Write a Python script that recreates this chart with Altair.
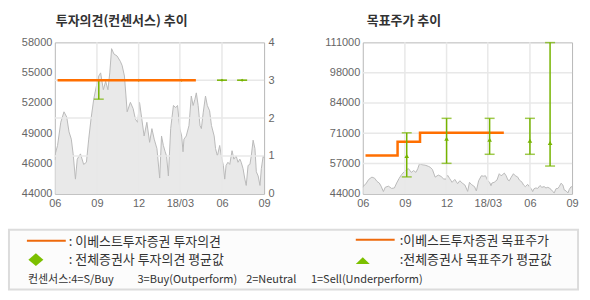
import altair as alt
import pandas as pd

FONT_KR = "Noto Sans CJK KR"
FONT_NUM = "Liberation Sans"
ORANGE = "#ff6f00"
ORANGE_LEG = "#ee6a0c"
GREEN = "#76b400"
GREEN_LEG = "#7cc000"

# ---------------- data ----------------
price_dates = [
    "2017-06-01", "2017-06-02", "2017-06-07", "2017-06-14", "2017-06-21", "2017-06-27",
    "2017-07-02", "2017-07-07", "2017-07-11", "2017-07-16", "2017-07-20", "2017-07-27",
    "2017-08-03", "2017-08-09", "2017-08-14", "2017-08-19", "2017-08-25", "2017-08-31",
    "2017-09-05", "2017-09-09", "2017-09-15", "2017-09-20", "2017-09-25", "2017-09-29",
    "2017-10-03", "2017-10-08", "2017-10-15", "2017-10-22", "2017-10-26", "2017-10-31",
    "2017-11-06", "2017-11-13", "2017-11-19", "2017-11-24", "2017-11-29", "2017-12-03",
    "2017-12-08", "2017-12-13", "2017-12-19", "2017-12-25", "2017-12-30", "2018-01-04",
    "2018-01-10", "2018-01-16", "2018-01-20", "2018-01-24", "2018-01-28", "2018-01-31",
    "2018-02-04", "2018-02-09", "2018-02-15", "2018-02-20", "2018-02-24", "2018-03-01",
    "2018-03-05", "2018-03-08", "2018-03-10", "2018-03-15", "2018-03-21", "2018-03-26",
    "2018-03-30", "2018-04-03", "2018-04-06", "2018-04-10", "2018-04-14", "2018-04-17",
    "2018-04-21", "2018-04-26", "2018-04-30", "2018-05-05", "2018-05-09", "2018-05-15",
    "2018-05-18", "2018-05-22", "2018-05-27", "2018-05-31", "2018-06-04", "2018-06-07",
    "2018-06-10", "2018-06-14", "2018-06-18", "2018-06-23", "2018-06-27", "2018-07-02",
    "2018-07-06", "2018-07-10", "2018-07-13", "2018-07-17", "2018-07-21", "2018-07-24",
    "2018-07-28", "2018-08-01", "2018-08-04", "2018-08-08", "2018-08-12", "2018-08-15",
    "2018-08-19", "2018-08-23", "2018-08-26", "2018-08-30", "2018-09-01",
]
price_values = [
    46800, 47400, 48200, 50400, 51400, 50900,
    49500, 48800, 47400, 45000, 46900, 47400,
    46400, 46600, 48800, 50700, 52600, 53900,
    54800, 55100, 53500, 54300, 53500, 55100,
    57400, 56900, 56700, 56200, 55800, 54800,
    51400, 52300, 51700, 50700, 50400, 52300,
    50700, 49100, 50400, 48500, 49800, 48800,
    47900, 45100, 49100, 48200, 47600, 47200,
    45300, 49800, 52000, 51800, 52000, 49800,
    49100, 47600, 48800, 49100, 50100, 52900,
    52000, 52600, 53200, 52000, 50100, 49800,
    51300, 52900, 52000, 51500, 50100, 49100,
    47900, 47200, 48200, 47100, 46300, 45000,
    46300, 46600, 46400, 47700, 46900, 47200,
    46600, 46900, 46600, 46000, 45000, 44400,
    46300, 46400, 47200, 48700, 47900, 45700,
    45300, 44400, 46000, 47200, 47000,
]

opinion_dates = ["2017-06-07", "2018-04-05"]
opinion_values = [3, 3]

target_dates = ["2017-06-07", "2017-08-16", "2017-10-04", "2018-04-05"]
target_values = [61000, 67000, 71000, 71000]

cons_dates = ["2017-09-05", "2017-12-01", "2018-03-05", "2018-06-01", "2018-07-15"]
cons_op_low = [2.5, 3, 3, 3, 3]
cons_op_high = [3, 3, 3, 3, 3]
cons_op_mean = [3, 3, 3, 3, 3]
cons_tp_low = [51500, 57500, 61500, 61500, 56300]
cons_tp_high = [71000, 77400, 77400, 77400, 110900]
cons_tp_mean = [60700, 68400, 67900, 67500, 66500]

x_tick_dates = ["2017-06-01", "2017-09-01", "2017-12-01", "2018-03-01", "2018-06-01", "2018-09-01"]
x_tick_labels = ["06", "09", "12", "18/03", "06", "09"]
left_tick_values = [43600, 46480, 49360, 52240, 55120, 58000]
left_tick_labels = ["44000", "46000", "49000", "52000", "55000", "58000"]
opinion_ticks = [0, 1, 2, 3, 4]
right_tick_values = [44000, 57400, 70800, 84200, 97600, 111000]
right_tick_labels = ["44000", "57000", "71000", "84000", "98000", "111000"]

titles = ["투자의견(컨센서스) 추이", "목표주가 추이"]
legend_left = [": 이베스트투자증권 투자의견", ": 전체증권사 투자의견 평균값"]
legend_right = [":이베스트투자증권 목표주가", ":전체증권사 목표주가 평균값"]
legend_scale = ["컨센서스:4=S/Buy", "3=Buy(Outperform)", "2=Neutral", "1=Sell(Underperform)"]


# ---------------- helpers ----------------
def dt(s):
    y, m, d = (int(p) for p in s.split("-"))
    return alt.DateTime(year=y, month=m, date=d)


def num_label_expr(values, labels):
    expr = "''"
    for v, l in zip(values, labels):
        expr = f"datum.value == {v} ? '{l}' : ({expr})"
    return expr


def date_label_expr(dates, labels):
    expr = "''"
    for d, l in zip(dates, labels):
        expr = f"timeFormat(datum.value, '%Y-%m-%d') == '{d}' ? '{l}' : ({expr})"
    return expr


price_df = pd.DataFrame({"date": pd.to_datetime(price_dates), "price": price_values})
opinion_df = pd.DataFrame({"date": pd.to_datetime(opinion_dates), "value": opinion_values})
target_df = pd.DataFrame({"date": pd.to_datetime(target_dates), "value": target_values})
cons_op_df = pd.DataFrame({"date": pd.to_datetime(cons_dates), "low": cons_op_low,
                           "high": cons_op_high, "mean": cons_op_mean})
cons_tp_df = pd.DataFrame({"date": pd.to_datetime(cons_dates), "low": cons_tp_low,
                           "high": cons_tp_high, "mean": cons_tp_mean})
vgrid_df = pd.DataFrame({"date": pd.to_datetime(x_tick_dates[1:-1])})
one = pd.DataFrame({"k": [0]})

xscale = alt.Scale(domain=[dt(x_tick_dates[0]), dt(x_tick_dates[-1])], nice=False)
x_axis = alt.Axis(values=[dt(s) for s in x_tick_dates],
                  labelExpr=date_label_expr(x_tick_dates, x_tick_labels),
                  title=None, labelPadding=4, labelFlush=False, labelOverlap=False)
X = alt.X("date:T", scale=xscale, axis=x_axis)

lscale = alt.Scale(domain=[left_tick_values[0], left_tick_values[-1]], nice=False, zero=False)
l_axis = alt.Axis(orient="left", values=left_tick_values,
                  labelExpr=num_label_expr(left_tick_values, left_tick_labels),
                  title=None, labelPadding=3)
oscale = alt.Scale(domain=[opinion_ticks[0], opinion_ticks[-1]], nice=False)
o_axis = alt.Axis(orient="right", values=opinion_ticks, title=None, labelPadding=4)
rscale = alt.Scale(domain=[right_tick_values[0], right_tick_values[-1]], nice=False, zero=False)
r_axis = alt.Axis(orient="left", values=right_tick_values,
                  labelExpr=num_label_expr(right_tick_values, right_tick_labels),
                  title=None, labelPadding=3)

GRID = "#e8e8e8"


def errorbars(df, yscale, yaxis, mean_shape, mean_size):
    rule = alt.Chart(df).mark_rule(color=GREEN, strokeWidth=1.5).encode(
        x=X, y=alt.Y("low:Q", scale=yscale, axis=yaxis), y2="high:Q")
    lo = alt.Chart(df).mark_tick(orient="horizontal", size=10, thickness=1.5, color=GREEN).encode(
        x=X, y=alt.Y("low:Q", scale=yscale, axis=yaxis))
    hi = alt.Chart(df).mark_tick(orient="horizontal", size=10, thickness=1.5, color=GREEN).encode(
        x=X, y=alt.Y("high:Q", scale=yscale, axis=yaxis))
    mean = alt.Chart(df).mark_point(shape=mean_shape, filled=True, opacity=1,
                                    size=mean_size, color=GREEN).encode(
        x=X, y=alt.Y("mean:Q", scale=yscale, axis=yaxis))
    return [rule, lo, hi, mean]


def text_mark(t, x, y, size=13, weight="normal", color="#333"):
    return alt.Chart(pd.DataFrame({"t": [t]})).mark_text(
        align="left", baseline="middle", font=FONT_KR, fontSize=size,
        fontWeight=weight, color=color
    ).encode(x=alt.value(x), y=alt.value(y), text="t:N")


# ---------------- left panel ----------------
area_l = alt.Chart(price_df).mark_area(
    color="#e0e0e0", line={"color": "#bababa", "strokeWidth": 1}, clip=True
).encode(x=X, y=alt.Y("price:Q", scale=lscale, axis=l_axis))
vgrid_l = alt.Chart(vgrid_df).mark_rule(color=GRID, strokeWidth=1.5).encode(x=X)
left_group = alt.layer(area_l, vgrid_l)

hgrid_l = alt.Chart(pd.DataFrame({"v": opinion_ticks[1:-1]})).mark_rule(
    color=GRID, strokeWidth=1.5
).encode(y=alt.Y("v:Q", scale=oscale, axis=o_axis))
op_line = alt.Chart(opinion_df).mark_line(color=ORANGE, strokeWidth=2.5).encode(
    x=X, y=alt.Y("value:Q", scale=oscale, axis=o_axis))
right_group = alt.layer(hgrid_l, *errorbars(cons_op_df, oscale, o_axis, "diamond", 10), op_line)

# legend (drawn below both panels, positioned relative to the left plot)
leg_box = alt.Chart(one).mark_rect(fill="#fcfcfc", stroke="#dcdcdc", strokeWidth=2).encode(
    x=alt.value(-46), x2=alt.value(525), y=alt.value(188), y2=alt.value(248))
leg_line1 = alt.Chart(one).mark_rule(color=ORANGE_LEG, strokeWidth=2).encode(
    x=alt.value(-28), x2=alt.value(11), y=alt.value(199))
leg_line2 = alt.Chart(one).mark_rule(color=ORANGE_LEG, strokeWidth=2).encode(
    x=alt.value(302), x2=alt.value(341), y=alt.value(198))
leg_diamond = alt.Chart(one).mark_point(
    shape="M0,-0.85L1,0L0,0.85L-1,0Z", size=225, filled=True, opacity=1, color=GREEN_LEG
).encode(x=alt.value(-19), y=alt.value(218))
leg_tri = alt.Chart(one).mark_point(
    shape="M-1,0.5L1,0.5L0,-0.5Z", size=196, filled=True, opacity=1, color=GREEN_LEG
).encode(x=alt.value(309), y=alt.value(219))

leg_texts = [
    text_mark(legend_left[0], 14, 200),
    text_mark(legend_left[1], 14, 218.5),
    text_mark(legend_right[0], 346, 199),
    text_mark(legend_right[1], 346, 218.5),
    text_mark(legend_scale[0], -27, 238, 11),
    text_mark(legend_scale[1], 83, 238, 11),
    text_mark(legend_scale[2], 192, 238, 11),
    text_mark(legend_scale[3], 257, 238, 11),
]
title_l = text_mark(titles[0], 1, -21, 13, "bold")
canvas = alt.Chart(one).mark_rect(opacity=0).encode(
    x=alt.value(-54), x2=alt.value(536), y=alt.value(-41), y2=alt.value(259))

left_panel = alt.layer(
    left_group, right_group,
    leg_box, leg_line1, leg_line2, leg_diamond, leg_tri, *leg_texts, title_l, canvas
).resolve_scale(y="independent").properties(width=210, height=152)

# ---------------- right panel ----------------
area_r = alt.Chart(price_df).mark_area(
    color="#e0e0e0", line={"color": "#bababa", "strokeWidth": 1}, clip=True
).encode(x=X, y=alt.Y("price:Q", scale=rscale, axis=r_axis))
vgrid_r = alt.Chart(vgrid_df).mark_rule(color=GRID, strokeWidth=1.5).encode(x=X)
hgrid_r = alt.Chart(pd.DataFrame({"v": right_tick_values[1:-1]})).mark_rule(
    color=GRID, strokeWidth=1.5
).encode(y=alt.Y("v:Q", scale=rscale, axis=r_axis))
tp_line = alt.Chart(target_df).mark_line(
    color=ORANGE, strokeWidth=2.5, interpolate="step-after"
).encode(x=X, y=alt.Y("value:Q", scale=rscale, axis=r_axis))
title_r = text_mark(titles[1], 4, -21, 13, "bold")

right_panel = alt.layer(
    area_r, vgrid_r, hgrid_r, tp_line,
    *errorbars(cons_tp_df, rscale, r_axis, "triangle-up", 22), title_r
).properties(width=210, height=152)

chart = alt.hconcat(left_panel, right_panel, spacing=99, bounds="flush").resolve_scale(
    x="independent", y="independent"
).resolve_axis(
    x="independent", y="independent"
).properties(
    padding={"left": 0, "top": 0, "right": 0, "bottom": 0}
).configure(background="white").configure_view(
    stroke="#b8b8b8", strokeWidth=1
).configure_axis(
    labelFont=FONT_NUM, labelFontSize=11, labelColor="#666",
    ticks=False, domain=False, grid=False
)

chart.save("out.html", embed_options={"renderer": "svg", "actions": False})
